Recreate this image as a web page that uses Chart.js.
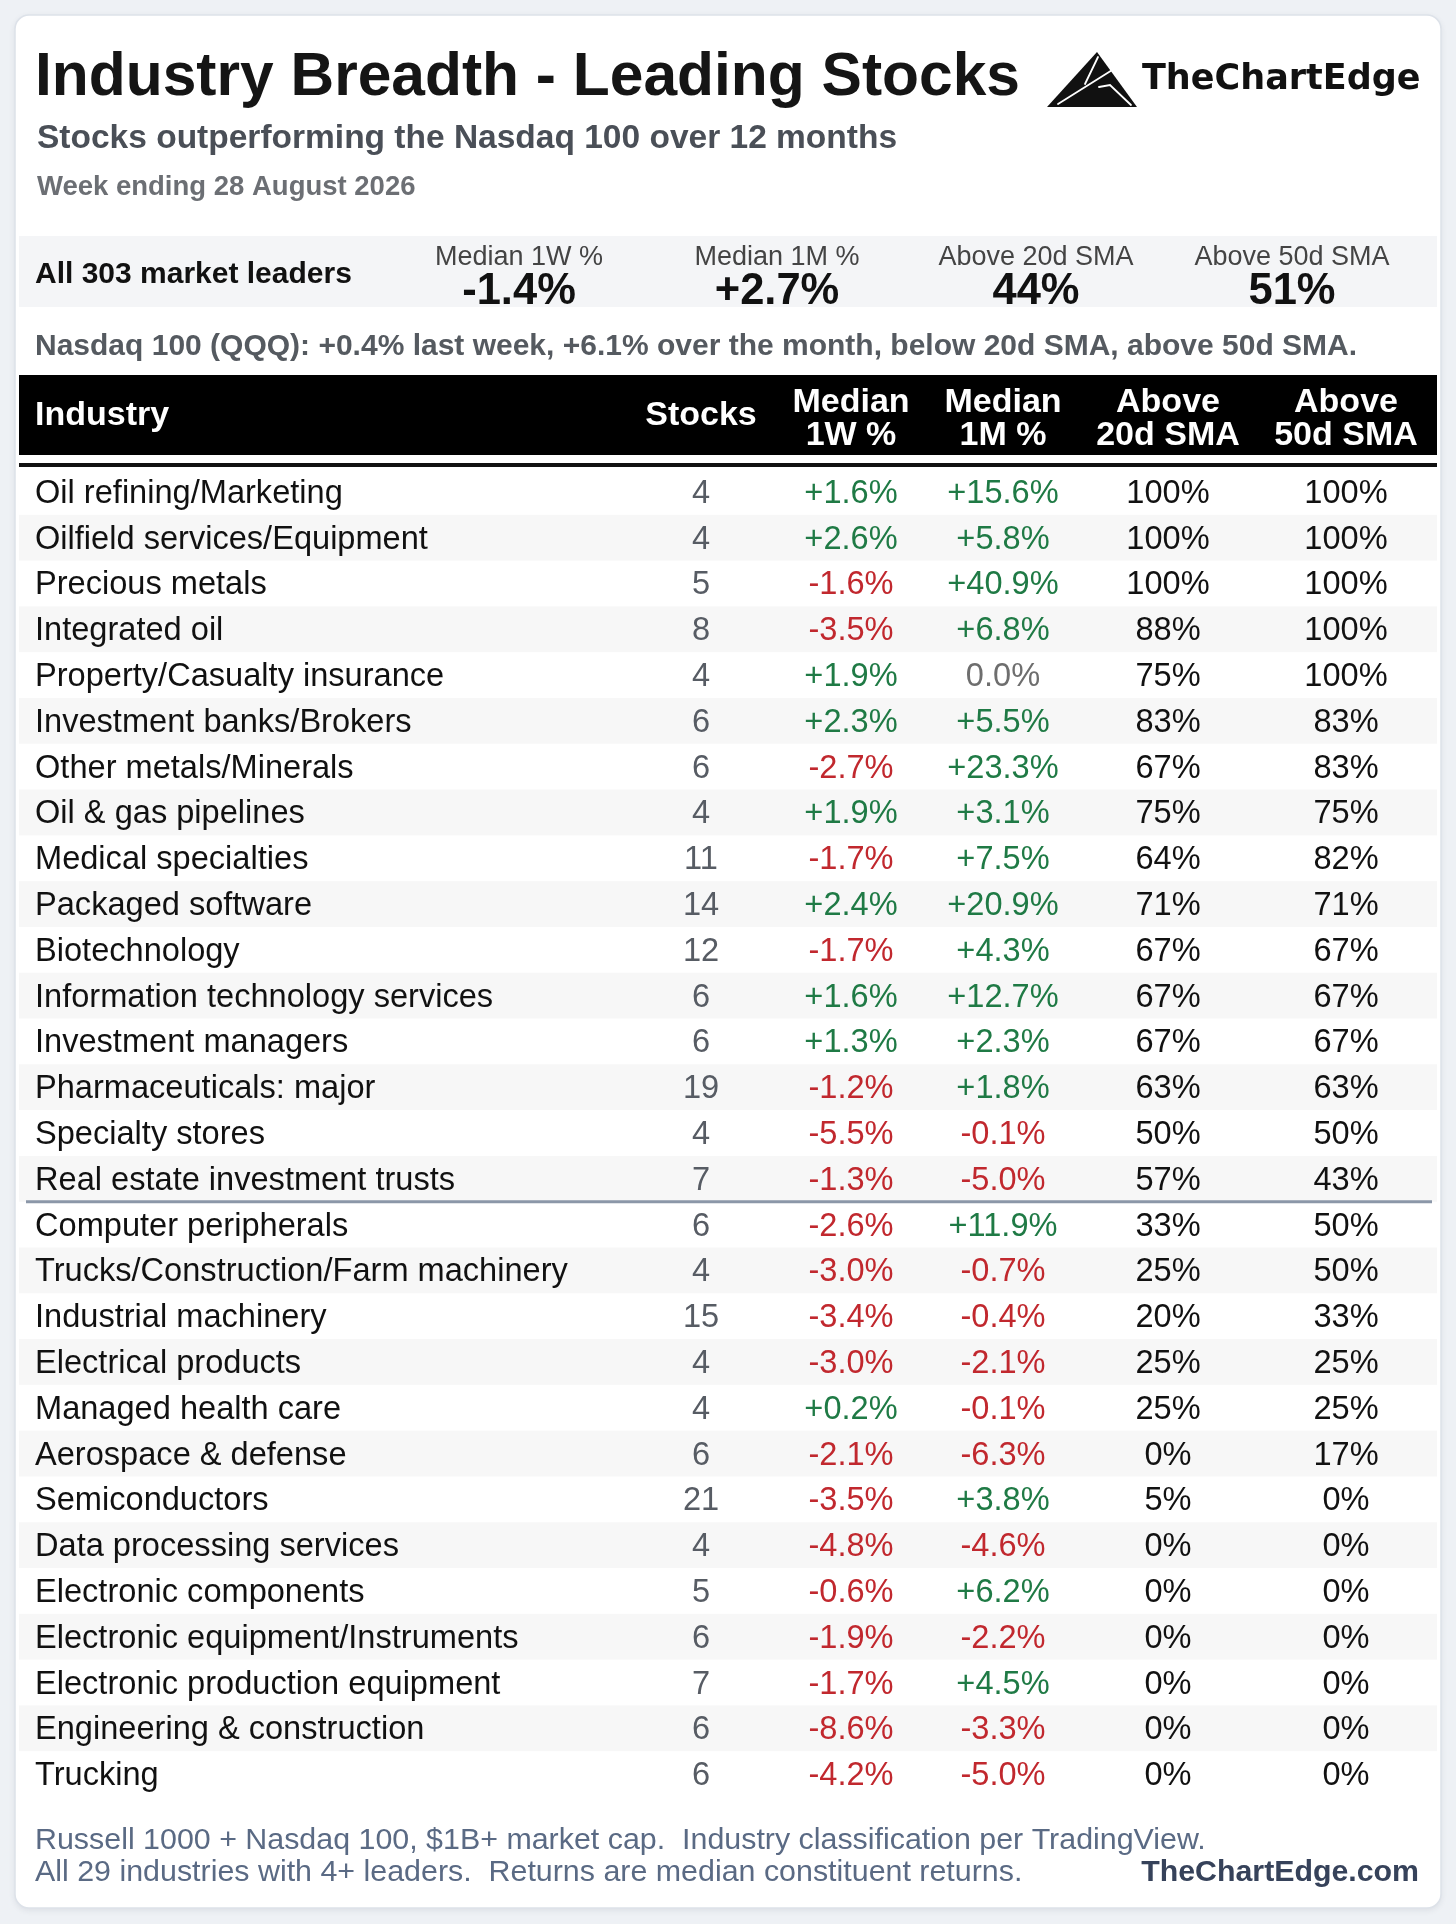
<!DOCTYPE html>
<html><head><meta charset="utf-8">
<script src="https://cdn.jsdelivr.net/npm/chart.js@4.4.1/dist/chart.umd.min.js"></script>
<style>
html,body{margin:0;padding:0;background:#eef1f5;}
#wrap{position:relative;width:1456px;height:1924px;}
canvas{display:block;}
</style></head><body>
<div id="wrap"><canvas id="c" width="1456" height="1924"></canvas></div>
<script>
// ---------------- DATA ----------------
const industries = [
  'Oil refining/Marketing','Oilfield services/Equipment','Precious metals','Integrated oil',
  'Property/Casualty insurance','Investment banks/Brokers','Other metals/Minerals','Oil & gas pipelines',
  'Medical specialties','Packaged software','Biotechnology','Information technology services',
  'Investment managers','Pharmaceuticals: major','Specialty stores','Real estate investment trusts',
  'Computer peripherals','Trucks/Construction/Farm machinery','Industrial machinery','Electrical products',
  'Managed health care','Aerospace & defense','Semiconductors','Data processing services',
  'Electronic components','Electronic equipment/Instruments','Electronic production equipment',
  'Engineering & construction','Trucking'
];
const stocks    = [4,4,5,8,4,6,6,4,11,14,12,6,6,19,4,7,6,4,15,4,4,6,21,4,5,6,7,6,6];
const median1W  = [1.6,2.6,-1.6,-3.5,1.9,2.3,-2.7,1.9,-1.7,2.4,-1.7,1.6,1.3,-1.2,-5.5,-1.3,-2.6,-3.0,-3.4,-3.0,0.2,-2.1,-3.5,-4.8,-0.6,-1.9,-1.7,-8.6,-4.2];
const median1M  = [15.6,5.8,40.9,6.8,0.0,5.5,23.3,3.1,7.5,20.9,4.3,12.7,2.3,1.8,-0.1,-5.0,11.9,-0.7,-0.4,-2.1,-0.1,-6.3,3.8,-4.6,6.2,-2.2,4.5,-3.3,-5.0];
const above20d  = [100,100,100,88,75,83,67,75,64,71,67,67,67,63,50,57,33,25,20,25,25,0,5,0,0,0,0,0,0];
const above50d  = [100,100,100,100,100,83,83,75,82,71,67,67,67,63,50,43,50,50,33,25,25,17,0,0,0,0,0,0,0];
const splitAfterIndex = 15;   // divider drawn below this row

const columnHeaders = [['Stocks'],['Median','1W %'],['Median','1M %'],['Above','20d SMA'],['Above','50d SMA']];
const summaryLabels = ['Median 1W %','Median 1M %','Above 20d SMA','Above 50d SMA'];
const summaryValues = [-1.4, 2.7, 44, 51];
const leadersCount = 303;

const titleText = 'Industry Breadth - Leading Stocks';
const subtitleText = 'Stocks outperforming the Nasdaq 100 over 12 months';
const weekText = 'Week ending 28 August 2026';
const nasdaqText = 'Nasdaq 100 (QQQ): +0.4% last week, +6.1% over the month, below 20d SMA, above 50d SMA.';
const footerLines = ['Russell 1000 + Nasdaq 100, $1B+ market cap.  Industry classification per TradingView.',
                     'All 29 industries with 4+ leaders.  Returns are median constituent returns.'];
const brandText = 'TheChartEdge';
const siteText = 'TheChartEdge.com';

// ---------------- LAYOUT / STYLE ----------------
const W = 1456, H = 1924;
const T = {left: 19, right: 1437, top: 469, bottom: 1797};
const AREA_LEFT = 620;
const COL_X = [81, 231, 383, 548, 726];            // column centres (x-scale units)
const SUMMARY_X = [519, 777, 1036, 1292];
const FONT = '"Liberation Sans", Arial, Helvetica, sans-serif';
const GREEN = '#1f7a45', RED = '#c1282e', ZERO = '#6e6e6e';
const CELL_FONT = '32.6px ' + FONT;
const CELL_DY = 2;

const fmtSigned = v => (v > 0 ? '+' : v < 0 ? '-' : '') + Math.abs(v).toFixed(1) + '%';
const fmtPct = v => v + '%';
const signColor = v => v > 0 ? GREEN : (v < 0 ? RED : ZERO);

const columns = [
  {values: stocks,   fmt: v => String(v), color: () => '#575c64'},
  {values: median1W, fmt: fmtSigned, color: signColor},
  {values: median1M, fmt: fmtSigned, color: signColor},
  {values: above20d, fmt: fmtPct, color: () => '#111111'},
  {values: above50d, fmt: fmtPct, color: () => '#111111'}
];

function roundRect(ctx, x, y, w, h, r) {
  ctx.beginPath();
  ctx.moveTo(x + r, y);
  ctx.arcTo(x + w, y, x + w, y + h, r);
  ctx.arcTo(x + w, y + h, x, y + h, r);
  ctx.arcTo(x, y + h, x, y, r);
  ctx.arcTo(x, y, x + w, y, r);
  ctx.closePath();
}
function text(ctx, s, x, y, font, color, align) {
  ctx.font = font; ctx.fillStyle = color; ctx.textAlign = align || 'left'; ctx.textBaseline = 'alphabetic';
  ctx.fillText(s, x, y);
}
function line(ctx, pts, color, w) {
  ctx.strokeStyle = color; ctx.lineWidth = w; ctx.lineCap = 'round';
  ctx.beginPath(); ctx.moveTo(pts[0], pts[1]);
  for (let i = 2; i < pts.length; i += 2) ctx.lineTo(pts[i], pts[i + 1]);
  ctx.stroke();
}

const tablePlugin = {
  id: 'tablePlugin',
  beforeDraw(chart) {
    const ctx = chart.ctx;
    const xs = chart.scales.x, ys = chart.scales.y;
    ctx.save();
    ctx.fillStyle = '#eef1f5'; ctx.fillRect(0, 0, W, H);
    // card
    ctx.shadowColor = 'rgba(40,50,70,0.10)'; ctx.shadowBlur = 6; ctx.shadowOffsetY = 2;
    roundRect(ctx, 15, 15, 1426, 1893, 14);
    ctx.fillStyle = '#ffffff'; ctx.fill();
    ctx.shadowColor = 'transparent'; ctx.shadowBlur = 0; ctx.shadowOffsetY = 0;
    ctx.strokeStyle = '#dde2e9'; ctx.lineWidth = 1.5; ctx.stroke();

    // titles
    text(ctx, titleText, 35, 95, 'bold 60.5px ' + FONT, '#151515');
    text(ctx, subtitleText, 37, 148, 'bold 33.5px ' + FONT, '#4a4f57');
    text(ctx, weekText, 37, 195, 'bold 27.5px ' + FONT, '#6c6f74');

    // logo
    ctx.fillStyle = '#111';
    ctx.beginPath(); ctx.moveTo(1097, 52); ctx.lineTo(1137, 107); ctx.lineTo(1047, 107); ctx.closePath(); ctx.fill();
    line(ctx, [1098, 57, 1085, 84], '#fff', 1.8);
    line(ctx, [1117, 67, 1058, 104], '#fff', 1.8);
    line(ctx, [1099, 87, 1110, 85, 1131, 105], '#fff', 1.8);
    text(ctx, brandText, 1142, 89, 'bold 35px "DejaVu Sans", sans-serif', '#111');

    // summary band
    ctx.fillStyle = '#f4f5f7'; ctx.fillRect(T.left, 236, T.right - T.left, 71);
    text(ctx, 'All ' + leadersCount + ' market leaders', 35, 283, 'bold 30px ' + FONT, '#111');
    summaryLabels.forEach((lab, i) => {
      text(ctx, lab, SUMMARY_X[i], 265, '27px ' + FONT, '#444', 'center');
      const v = summaryValues[i];
      const s = i < 2 ? fmtSigned(v) : fmtPct(v);
      text(ctx, s, SUMMARY_X[i], 304, 'bold 43.5px ' + FONT, '#111', 'center');
    });

    // nasdaq line
    text(ctx, nasdaqText, 35, 355, 'bold 30px ' + FONT, '#555a60');

    // header band
    ctx.fillStyle = '#000'; ctx.fillRect(T.left, 375, T.right - T.left, 80);
    text(ctx, 'Industry', 35, 425, 'bold 34px ' + FONT, '#fff');
    columnHeaders.forEach((lines, k) => {
      const cx = xs.getPixelForValue(COL_X[k]);
      if (lines.length === 1) text(ctx, lines[0], cx, 425, 'bold 34px ' + FONT, '#fff', 'center');
      else { text(ctx, lines[0], cx, 412, 'bold 34px ' + FONT, '#fff', 'center');
             text(ctx, lines[1], cx, 445, 'bold 34px ' + FONT, '#fff', 'center'); }
    });
    ctx.fillStyle = '#111'; ctx.fillRect(T.left, 463, T.right - T.left, 4);

    // zebra rows
    const pitch = (chart.chartArea.bottom - chart.chartArea.top) / industries.length;
    industries.forEach((_, i) => {
      if (i % 2 === 1) {
        const cy = ys.getPixelForValue(i);
        ctx.fillStyle = '#f7f7f7';
        ctx.fillRect(T.left, cy - pitch / 2, T.right - T.left, pitch);
      }
    });

    // footer
    text(ctx, footerLines[0], 35, 1849, '30.4px ' + FONT, '#5a6a84');
    text(ctx, footerLines[1], 35, 1881, '30.4px ' + FONT, '#5a6a84');
    text(ctx, siteText, 1419, 1881, 'bold 30.3px ' + FONT, '#36425a', 'right');
    ctx.restore();
  },
  afterDatasetsDraw(chart) {
    const ctx = chart.ctx, ys = chart.scales.y;
    ctx.save();
    columns.forEach((col, k) => {
      const meta = chart.getDatasetMeta(k);
      meta.data.forEach((pt, i) => {
        const v = col.values[i];
        ctx.font = CELL_FONT;
        ctx.fillStyle = col.color(v);
        ctx.textAlign = 'center'; ctx.textBaseline = 'middle';
        ctx.fillText(col.fmt(v), pt.x, pt.y + CELL_DY);
      });
    });
    const yl = (ys.getPixelForValue(splitAfterIndex) + ys.getPixelForValue(splitAfterIndex + 1)) / 2;
    ctx.strokeStyle = '#8b97a8'; ctx.lineWidth = 3;
    ctx.beginPath(); ctx.moveTo(26, yl); ctx.lineTo(1432, yl); ctx.stroke();
    ctx.restore();
  }
};

const datasets = columns.map((col, k) => ({
  label: 'col' + k,
  data: industries.map((name, i) => ({x: COL_X[k], y: name})),
  pointRadius: 0, pointHoverRadius: 0, showLine: false
}));

new Chart(document.getElementById('c'), {
  type: 'scatter',
  data: {labels: industries, datasets},
  options: {
    responsive: false, animation: false, devicePixelRatio: 1,
    events: [],
    layout: {padding: {left: 35, right: W - T.right, top: T.top, bottom: H - T.bottom}},
    plugins: {legend: {display: false}, tooltip: {enabled: false}},
    scales: {
      x: {type: 'linear', display: false, min: 0, max: T.right - AREA_LEFT},
      y: {
        type: 'category', labels: industries, offset: true, position: 'left',
        grid: {display: false, drawTicks: false}, border: {display: false},
        ticks: {autoSkip: false, crossAlign: 'far', padding: 0, color: '#111', labelOffset: CELL_DY,
                font: {size: 32.6, family: FONT}},
        afterFit(s) { s.width = AREA_LEFT - 35; }
      }
    }
  },
  plugins: [tablePlugin]
});
</script>
</body></html>
